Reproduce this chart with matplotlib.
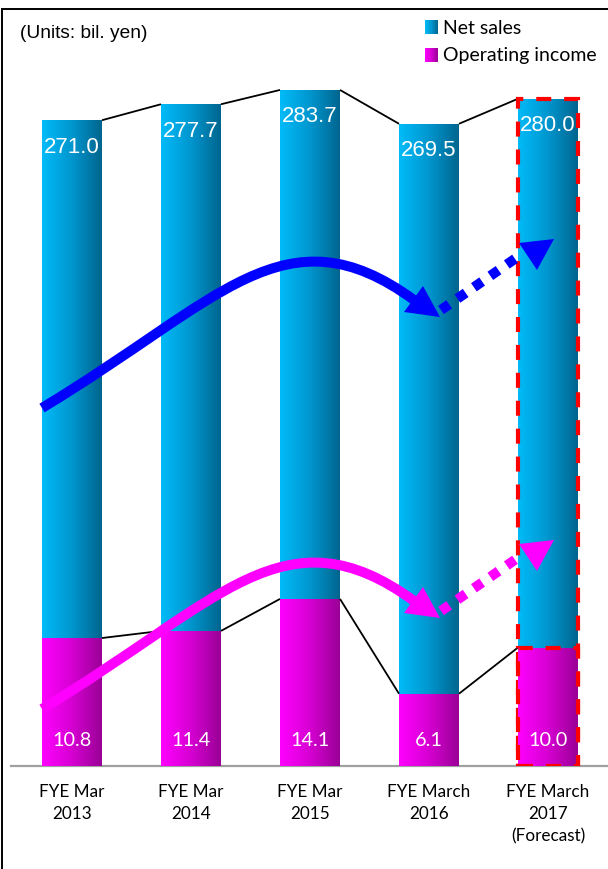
import numpy as np
import matplotlib
matplotlib.use("Agg")
import matplotlib.pyplot as plt
from matplotlib.patches import PathPatch, Polygon
from matplotlib.path import Path
from matplotlib.colors import LinearSegmentedColormap

# ---- data ----
categories = ["FYE Mar\n2013", "FYE Mar\n2014", "FYE Mar\n2015",
              "FYE March\n2016", "FYE March\n2017\n(Forecast)"]
net_sales = [271.0, 277.7, 283.7, 269.5, 280.0]
operating_income = [10.8, 11.4, 14.1, 6.1, 10.0]
forecast_index = 4

W, H, DPI = 608, 870, 100
fig = plt.figure(figsize=(W / DPI, H / DPI), dpi=DPI)
fig.patch.set_facecolor("white")

SANS = ["Liberation Sans", "DejaVu Sans"]
HUMAN = ["Lato", "DejaVu Sans"]

cyan_cmap = LinearSegmentedColormap.from_list("cy", ["#00bbf8", "#0096cf", "#00658e"])
mag_cmap = LinearSegmentedColormap.from_list("mg", ["#ff00ff", "#d600d2", "#9a0096"])
grad = np.linspace(0, 1, 256).reshape(1, -1)

# axes: baseline at y=767px, top at y=10px
bottom_px, top_px = 767, 10
left_px = 11
ax = fig.add_axes([left_px / W, (H - bottom_px) / H, (W - left_px) / W,
                   (bottom_px - top_px) / H])
ax2 = ax.twinx()
x = np.arange(len(categories))
bar_w = 60 / 119
xlim = (-(72 - left_px) / 119, (W - 72) / 119)
ylim1 = (0, (bottom_px - top_px) / 2.383)
ylim2 = (0, (bottom_px - top_px) / 11.85)


def gradient_bars(axis, values, cmap, zorder):
    bars = axis.bar(x, values, width=bar_w, color="none", zorder=zorder)
    for b in bars:
        x0, w, h = b.get_x(), b.get_width(), b.get_height()
        im = axis.imshow(grad, cmap=cmap, extent=[x0, x0 + w, 0, h],
                         aspect="auto", zorder=zorder, interpolation="bilinear")
        im.set_clip_path(b)
    return bars


gradient_bars(ax, net_sales, cyan_cmap, 2)
gradient_bars(ax2, operating_income, mag_cmap, 2)

# connecting lines between adjacent bar tops
for axis, vals in ((ax, net_sales), (ax2, operating_income)):
    for i in range(len(vals) - 1):
        axis.plot([x[i] + bar_w / 2, x[i + 1] - bar_w / 2], [vals[i], vals[i + 1]],
                  color="black", lw=1.3, zorder=3, solid_capstyle="butt")

# forecast outline
for axis, vals in ((ax, net_sales), (ax2, operating_income)):
    axis.bar([x[forecast_index]], [vals[forecast_index]], width=bar_w, fill=False,
             edgecolor="#ff0000", linewidth=3, linestyle=(0, (3.6, 3.1)), zorder=5)

# value labels
for i, v in enumerate(net_sales):
    ax.annotate(f"{v:.1f}", (x[i], v), xytext=(0, -26), textcoords="offset pixels",
                ha="center", va="center", color="white", fontsize=16,
                family=SANS, zorder=6)
for i, v in enumerate(operating_income):
    ax2.annotate(f"{v:.1f}", (x[i], 0), xytext=(0, 26), textcoords="offset pixels",
                 ha="center", va="center", color="white", fontsize=14.3,
                 family=HUMAN, zorder=6)

for a, yl in ((ax, ylim1), (ax2, ylim2)):
    a.set_xlim(*xlim)
    a.set_ylim(*yl)
    a.set_yticks([])
    for s in ("top", "right", "left"):
        a.spines[s].set_visible(False)
ax.spines["bottom"].set_color("#a0a0a0")
ax.spines["bottom"].set_linewidth(1.6)
ax2.spines["bottom"].set_visible(False)
ax.set_xticks(x)
ax.set_xticklabels(categories, family=HUMAN, fontsize=12.3, linespacing=1.5,
                   va="top")
ax.tick_params(axis="x", length=0, pad=12)
ax.patch.set_visible(False)

# overlay in pixel coordinates for annotations
ov = fig.add_axes([0, 0, 1, 1], zorder=10)
ov.set_xlim(0, W)
ov.set_ylim(H, 0)
ov.axis("off")
ov.patch.set_visible(False)

# frame
ov.plot([1.8, 1.8, W], [H, 9.8, 9.8], color="black", lw=1.4,
        solid_joinstyle="miter")

ov.text(20, 33, "(Units: bil. yen)", family=SANS, fontsize=13.8,
        ha="left", va="center")

# legend
for (yc, cmap, lab) in ((28, cyan_cmap, "Net sales"), (56, mag_cmap, "Operating income")):
    ov.imshow(grad, cmap=cmap, extent=[425, 438, yc + 7, yc - 7], aspect="auto",
              interpolation="bilinear")
    ov.text(443, yc, lab, family=HUMAN, fontsize=14, ha="left", va="center")
ov.set_xlim(0, W)
ov.set_ylim(H, 0)


def trend_arrow(dy, color):
    lw_px = 10
    lw_pt = lw_px * 72 / DPI
    p0, p1, p2, p3 = (42, 710), (220, 603), (285, 508), (414, 602)
    verts = [(a, b + dy) for a, b in (p0, p1, p2, p3)]
    path = Path(verts, [Path.MOVETO, Path.CURVE4, Path.CURVE4, Path.CURVE4])
    ov.add_patch(PathPatch(path, fill=False, edgecolor=color, lw=lw_pt,
                           capstyle="butt"))
    ov.add_patch(Polygon([(440, 619 + dy), (404, 614 + dy), (423, 588 + dy)],
                         closed=True, color=color, lw=0))
    ov.plot([441, 519], [612 + dy, 558 + dy], color=color, lw=lw_pt,
            linestyle=(0, (1, 1)), solid_capstyle="butt", dash_capstyle="butt")
    ov.add_patch(Polygon([(554, 541 + dy), (519, 545 + dy), (537, 572 + dy)],
                         closed=True, color=color, lw=0))


trend_arrow(-301, "#0000ff")
trend_arrow(0, "#ff00ff")

fig.savefig("out.png", dpi=DPI, facecolor="white")
